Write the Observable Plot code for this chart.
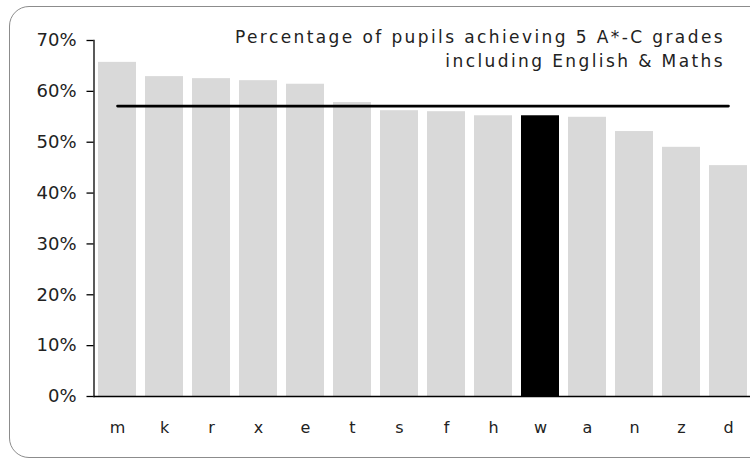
<!DOCTYPE html>
<html>
<head>
<meta charset="utf-8">
<script src="https://cdn.jsdelivr.net/npm/d3@7"></script>
<script src="https://cdn.jsdelivr.net/npm/@observablehq/plot@0.6"></script>
<style>
  html, body { margin: 0; padding: 0; background: #fff; overflow: hidden; }
  #wrap { position: relative; width: 750px; height: 460px; overflow: hidden; }
  #border { position: absolute; left: 9px; top: 6px; width: 780px; height: 452px;
            border: 1.3px solid #8c8c8c; border-radius: 20px; box-sizing: border-box; }
  #title { position: absolute; right: 25px; top: 25px; text-align: right; white-space: nowrap;
           font-family: "DejaVu Sans", sans-serif; font-size: 17px; line-height: 24px;
           letter-spacing: 2.4px; color: #222; }
  #chart { position: absolute; left: 0; top: 0; width: 760px; }
  #chart svg { max-width: none !important; }
</style>
</head>
<body>
<div id="wrap">
  <div id="border"></div>
  <div id="chart"></div>
  <div id="title">Percentage of pupils achieving 5 A*-C grades<br>including English &amp; Maths</div>
</div>
<script>
const categories = ["m","k","r","x","e","t","s","f","h","w","a","n","z","d"];
const values = [0.657,0.629,0.625,0.621,0.614,0.578,0.562,0.560,0.552,0.552,0.549,0.521,0.490,0.454];
const highlight = "w";
const average = 0.571;
const yTicks = [0,0.1,0.2,0.3,0.4,0.5,0.6,0.7];

const data = categories.map((c, i) => ({cat: c, value: values[i], avg: average}));

const chart = Plot.plot({
  width: 760,
  height: 460,
  marginLeft: 93.5,
  marginRight: 8.5,
  marginTop: 40,
  marginBottom: 64,
  style: {fontFamily: "DejaVu Sans, sans-serif", background: "transparent", color: "#222", maxWidth: "none"},
  x: {domain: categories, paddingInner: 0.19, paddingOuter: 0.095, label: null},
  y: {domain: [0, 0.7], label: null},
  marks: [
    Plot.barY(data, {x: "cat", y: "value", fill: d => d.cat === highlight ? "#000" : "#d9d9d9"}),
    Plot.lineY(data, {x: "cat", y: "avg", stroke: "#000", strokeWidth: 2.6}),
    Plot.ruleY([0], {stroke: "#000", strokeWidth: 1.3}),
    Plot.frame({anchor: "left", stroke: "#000", strokeWidth: 1.3}),
    Plot.axisY({ticks: yTicks, tickFormat: d3.format(".0%"), tickSize: 7, tickPadding: 10.5,
                fontSize: 18, stroke: "#000", strokeWidth: 1.3, strokeOpacity: 1,
                style: {letterSpacing: "2.5px"}}),
    Plot.axisX({tickSize: 0, tickPadding: 25, fontSize: 16})
  ]
});
document.getElementById("chart").appendChild(chart);
</script>
</body>
</html>
